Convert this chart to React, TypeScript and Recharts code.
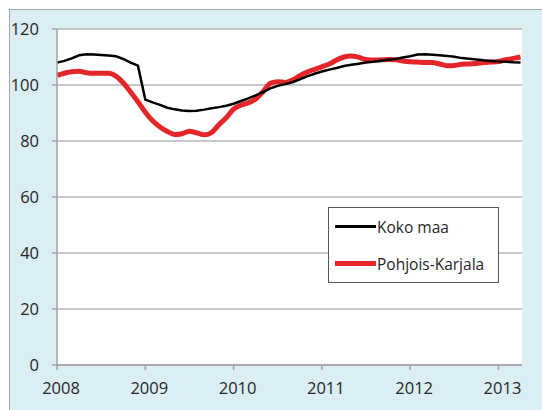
import { LineChart, Line, XAxis, YAxis, CartesianGrid, Legend } from "recharts";

// Monthly index, Jan 2008 = 0
const kokoMaa = [
  108, 108.6, 109.5, 110.6, 111, 110.9, 110.7, 110.5, 110.3, 109.3, 108, 106.9,
  94.8, 93.8, 92.9, 91.9, 91.3, 90.9, 90.7, 90.8, 91.2, 91.7, 92.1, 92.6,
  93.3, 94.3, 95.2, 96.3, 97.5, 98.8, 99.7, 100.3, 101, 102, 103.1, 104,
  104.8, 105.5, 106.1, 106.8, 107.2, 107.6, 108, 108.3, 108.7, 109, 109.3, 109.8,
  110.3, 110.9, 111, 110.8, 110.6, 110.4, 110.1, 109.6, 109.4, 109.1, 108.8, 108.6,
  108.4, 108.3, 108.1, 108,
];

const pohjoisKarjala = [
  103.4, 104.2, 104.7, 104.9, 104.4, 104.2, 104.2, 104.2, 103.2, 100.8, 97.5, 94,
  90.3, 87.2, 85, 83.4, 82.3, 82.6, 83.5, 82.9, 82.2, 83, 85.8, 88.3,
  91.4, 92.8, 93.6, 95, 97.6, 100.6, 101.2, 100.9, 101.8, 103.3, 104.6, 105.6,
  106.5, 107.5, 108.9, 110, 110.4, 109.9, 109.1, 108.9, 109, 109.1, 109, 108.6,
  108.3, 108.2, 108, 108, 107.5, 106.9, 107, 107.4, 107.5, 107.7, 108, 108.2,
  108.4, 109, 109.5, 110,
];

const yearTicks = [0, 12, 24, 36, 48, 60];
const yearLabels = ["2008", "2009", "2010", "2011", "2012", "2013"];
const yTicks = [0, 20, 40, 60, 80, 100, 120];

const data = kokoMaa.map((v, i) => ({ m: i, koko: v, pk: pohjoisKarjala[i] }));

const FONT = "'Open Sans', sans-serif";
const BLACK = "#000000";
const RED = "#e4262a";
const GRID = "#b5b5b5";
const AXIS = "#a0a0a0";
const TEXT = "#262626";

function LegendBox() {
  const row = (color: string, width: number, label: string) => (
    <div style={{ display: "flex", alignItems: "center", height: 40 }}>
      <div style={{ width: 41, height: width, background: color, marginLeft: 6 }} />
      <span style={{ fontSize: 15.5, color: TEXT, marginLeft: 1 }}>{label}</span>
    </div>
  );
  return (
    <div
      style={{
        width: 169,
        height: 74,
        border: "1.5px solid #555",
        background: "#fff",
        fontFamily: FONT,
        display: "flex",
        flexDirection: "column",
        justifyContent: "center",
        boxSizing: "content-box",
      }}
    >
      {row(BLACK, 3, "Koko maa")}
      {row(RED, 5, "Pohjois-Karjala")}
    </div>
  );
}

export default function App() {
  return (
    <div style={{ position: "absolute", left: 0, top: 0, width: 542, height: 410, overflow: "hidden", background: "#fff" }}>
      <div
        style={{
          position: "absolute",
          left: 9,
          top: 9,
          width: 560,
          height: 430,
          background: "#dbeef4",
          border: "1px solid #a8a8a8",
        }}
      />
      <div style={{ position: "absolute", left: 0, top: 0 }}>
        <LineChart
          width={542}
          height={410}
          data={data}
          margin={{ top: 29, right: 20, bottom: 0, left: 0 }}
          style={{ fontFamily: FONT }}
        >
          <CartesianGrid vertical={false} stroke={GRID} strokeWidth={1.5} fill="#ffffff" fillOpacity={1} />
          <XAxis
            type="number"
            dataKey="m"
            domain={[0, 63.2]}
            ticks={yearTicks}
            tickFormatter={(v: number) => yearLabels[yearTicks.indexOf(v)]}
            height={45}
            stroke={AXIS}
            strokeWidth={1.5}
            tickSize={5}
            tickMargin={12}
            tick={{ fill: TEXT, fontSize: 16.5, fontFamily: FONT, dx: 4 }}
          />
          <YAxis
            type="number"
            domain={[0, 120]}
            ticks={yTicks}
            width={57}
            stroke={AXIS}
            strokeWidth={1.5}
            tickSize={5}
            tickMargin={13}
            tick={{ fill: TEXT, fontSize: 16.5, fontFamily: FONT }}
          />
          <Legend
            layout="vertical"
            align="center"
            verticalAlign="middle"
            wrapperStyle={{ left: 328, top: 207, width: "auto" }}
            content={() => <LegendBox />}
          />
          <Line
            type="monotone"
            dataKey="pk"
            name="Pohjois-Karjala"
            stroke={RED}
            strokeWidth={5}
            dot={false}
            isAnimationActive={false}
          />
          <Line
            type="linear"
            dataKey="koko"
            name="Koko maa"
            stroke={BLACK}
            strokeWidth={2.5}
            dot={false}
            isAnimationActive={false}
          />
        </LineChart>
      </div>
    </div>
  );
}
